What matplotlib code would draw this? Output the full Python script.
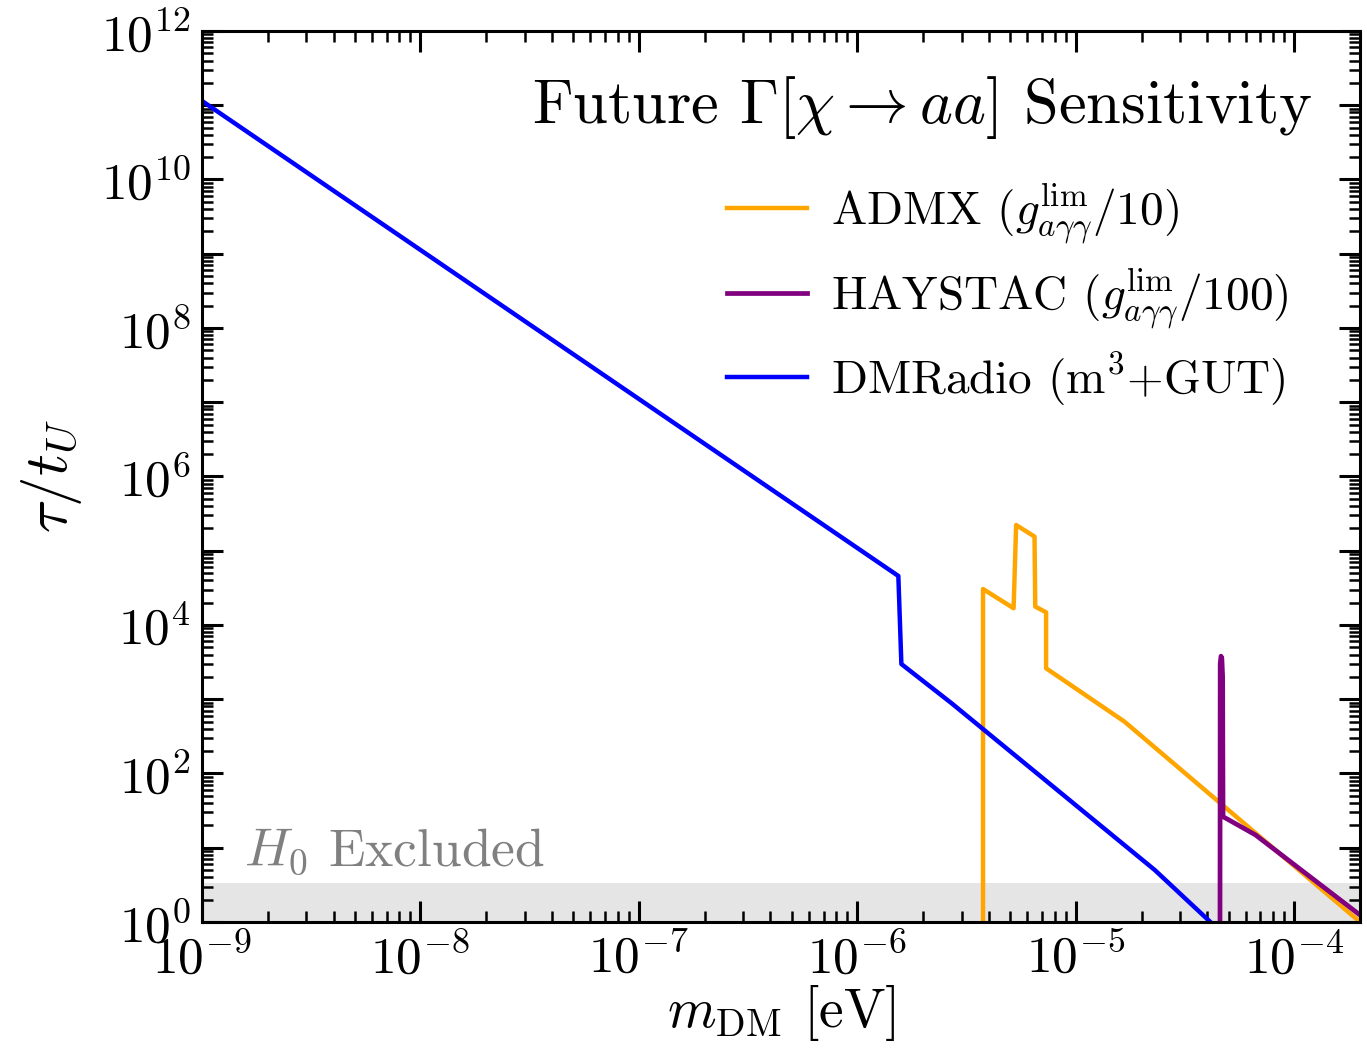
"""
Future sensitivity of haloscope searches to the chi -> aa decay lifetime
"""
import matplotlib
matplotlib.use('Agg')
import matplotlib.pyplot as plt
import matplotlib.ticker as mticker
import numpy as np

plt.rcParams['font.family'] = 'serif'
plt.rcParams['font.serif'] = ['cmr10']
plt.rcParams['mathtext.fontset'] = 'cm'
plt.rcParams['axes.formatter.use_mathtext'] = True

# DMRadio (m^3 + GUT) projection
dmradio_m = [1e-9, 1.54e-6, 1.59e-6, 2.70e-6, 2.30e-5, 4.13e-5, 4.6e-5]
dmradio_tau = [1.14e11, 4.57e4, 2.98e3, 882, 5.0, 1.0, 0.75]

# ADMX with coupling limit / 10
admx_m = [3.76e-6, 3.76e-6, 5.19e-6, 5.33e-6, 6.47e-6, 6.52e-6, 7.31e-6,
          7.31e-6, 1.67e-5, 2e-4]
admx_tau = [0.5, 3.05e4, 1.68e4, 2.22e5, 1.55e5, 1.77e4, 1.48e4,
            2.61e3, 499, 1.0]

# HAYSTAC with coupling limit / 100
haystac_m = [4.57e-5, 4.58e-5, 4.62e-5, 4.66e-5, 4.70e-5, 4.72e-5,
             6.64e-5, 2e-4]
haystac_tau = [0.5, 3.0e3, 3.8e3, 3.6e3, 2.0e3, 26.2, 14.9, 1.24]

# lifetimes excluded by H0
h0_limit = 3.4

fig, ax = plt.subplots(figsize=(13.67, 10.60), dpi=100)
fig.subplots_adjust(left=0.1478, right=0.9949, top=0.9708, bottom=0.1302)

ax.axhspan(1e-3, h0_limit, color='#e5e5e5', lw=0, zorder=0)

ax.plot(admx_m, admx_tau, color='orange', lw=3.2, label=r'ADMX ($g_{a\gamma\gamma}^{\rm lim}/10$)')
ax.plot(haystac_m, haystac_tau, color='purple', lw=3.4,
        label=r'HAYSTAC ($g_{a\gamma\gamma}^{\rm lim}/100$)')
ax.plot(dmradio_m, dmradio_tau, color='blue', lw=3.2, label=r'DMRadio (m$^3$+GUT)')

ax.set_xscale('log')
ax.set_yscale('log')
ax.set_xlim(1e-9, 2e-4)
ax.set_ylim(1, 1e12)

# decade ticks on y, labels on even powers only
ax.yaxis.set_major_locator(mticker.FixedLocator([10.0**k for k in range(0, 13)]))
ax.yaxis.set_major_formatter(mticker.FuncFormatter(
    lambda v, p: r'$10^{%d}$' % round(np.log10(v)) if round(np.log10(v)) % 2 == 0 else ''))
ax.yaxis.set_minor_locator(mticker.LogLocator(base=10, subs=np.arange(2, 10), numticks=30))
ax.yaxis.set_minor_formatter(mticker.NullFormatter())
ax.xaxis.set_major_locator(mticker.LogLocator(base=10, numticks=20))
ax.xaxis.set_minor_locator(mticker.LogLocator(base=10, subs=np.arange(2, 10), numticks=30))
ax.xaxis.set_minor_formatter(mticker.NullFormatter())

ax.tick_params(which='both', direction='in', top=True, right=True, labelsize=37)
ax.tick_params(which='major', length=15, width=2.2, pad=8)
ax.tick_params(which='minor', length=8, width=1.8)
for s in ax.spines.values():
    s.set_linewidth(2.2)

ax.set_xlabel(r'$m_{\rm DM}$ [eV]', fontsize=40, labelpad=0)
ax.set_ylabel(r'$\tau/t_U$', fontsize=44, labelpad=12)

ax.text(0.036, 0.052, r'$H_0$ Excluded', transform=ax.transAxes, fontsize=38.5,
        color='gray', ha='left', va='bottom')

ax.text(0.9585, 0.914, r'Future $\Gamma[\chi \rightarrow aa]$ Sensitivity',
        transform=ax.transAxes, fontsize=45, ha='right', va='center')

ax.legend(loc='upper left', bbox_to_anchor=(0.4534, 0.8305), frameon=False,
          fontsize=34, handlelength=1.7, handletextpad=0.5, labelspacing=0.42,
          borderpad=0, borderaxespad=0)

plt.savefig('out.png', dpi=100)
plt.close(fig)
